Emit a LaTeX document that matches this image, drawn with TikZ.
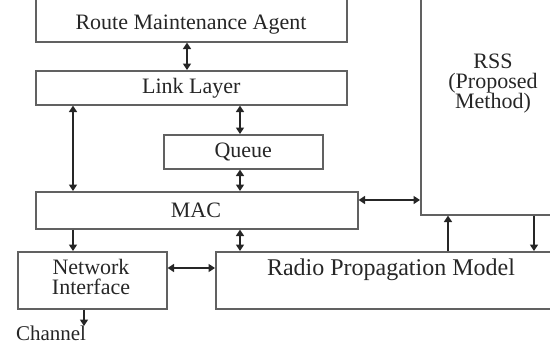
\documentclass[tikz,border=0pt]{standalone}
\usepackage{fontspec}
\setmainfont{Liberation Serif}
\usetikzlibrary{arrows.meta}
\begin{document}
\begin{tikzpicture}[x=1pt,y=-1pt,
  box/.style={draw=black!62, line width=1.6pt, rectangle, inner sep=0pt, anchor=north west},
  lbl/.style={font=\fontsize{22}{20}\selectfont, text=black!85, align=center, inner sep=0pt},
  big/.style={font=\fontsize{24}{20}\selectfont, text=black!85, inner sep=0pt},
  tipA/.tip={Triangle[length=6.5pt,width=8pt]},
  dbl/.style={line width=1.8pt, black!85, {tipA}-{tipA}},
  one/.style={line width=1.8pt, black!85, -{tipA}}]
\useasboundingbox (0,0) rectangle (550,346);
\clip (0,0) rectangle (550,346);
% boxes
\node[box, minimum width=311pt, minimum height=51pt] (rma) at (35,-10) {};
\node[box, minimum width=311pt, minimum height=34pt] (link) at (35,70) {};
\node[box, minimum width=159pt, minimum height=34pt] (queue) at (163,134) {};
\node[box, minimum width=322pt, minimum height=37pt] (mac) at (35,191) {};
\node[box, minimum width=149pt, minimum height=57pt] (ni) at (17,251) {};
\node[box, minimum width=360pt, minimum height=57pt] (radio) at (215,251) {};
\node[box, minimum width=160pt, minimum height=224pt] (rss) at (420,-10) {};
% texts
\node[lbl] (trma) at (191,25) {Route Maintenance Agent};
\node[lbl] (tlink) at (link.center) {Link Layer};
\node[lbl] (tqueue) at (queue.center) {Queue};
\node[lbl] (tmac) at (196,210) {MAC};
\node[lbl] (tni) at (91,277) {Network\\Interface};
\node[big] (tradio) at (391,270) {Radio Propagation Model};
\node[lbl] (trss) at (493,84) {RSS\\(Proposed\\Method)};
\node[lbl, anchor=north, font=\fontsize{21}{20}\selectfont] (chan) at (51,326) {Channel};
% x positions
\coordinate (xa) at (187,0);
\coordinate (xb) at (73,0);
\coordinate (xc) at (240,0);
\coordinate (xd) at (448,0);
\coordinate (xe) at (534,0);
\coordinate (xf) at (84,0);
\coordinate (ya) at (0,200);
\coordinate (yb) at (0,268);
% connectors
\draw[dbl] (rma.south -| xa) -- (link.north -| xa);
\draw[dbl] (link.south -| xb) -- (mac.north -| xb);
\draw[dbl] (link.south -| xc) -- (queue.north -| xc);
\draw[dbl] (queue.south -| xc) -- (mac.north -| xc);
\draw[dbl] (mac.east |- ya) -- (rss.west |- ya);
\draw[one] (mac.south -| xb) -- (ni.north -| xb);
\draw[dbl] (mac.south -| xc) -- (radio.north -| xc);
\draw[one] (radio.north -| xd) -- (rss.south -| xd);
\draw[one] (rss.south -| xe) -- (radio.north -| xe);
\draw[dbl] (ni.east |- yb) -- (radio.west |- yb);
\draw[one] (ni.south -| xf) -- (chan.north -| xf);
\end{tikzpicture}
\end{document}
